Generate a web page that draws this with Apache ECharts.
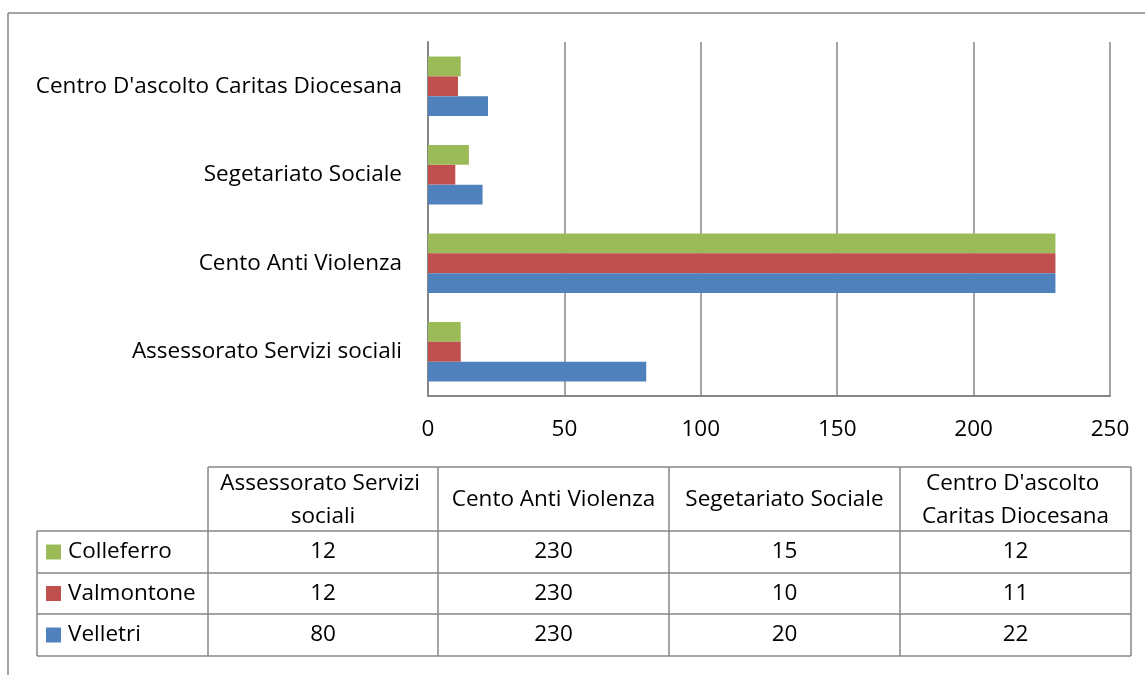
<!DOCTYPE html>
<html>
<head>
<meta charset="utf-8">
<script src="https://cdn.jsdelivr.net/npm/echarts@6/dist/echarts.min.js"></script>
<style>
html,body{margin:0;padding:0;background:#fff;}
#main{width:1145px;height:675px;}
</style>
</head>
<body>
<div id="main"></div>
<script>
var categories=['Assessorato Servizi sociali','Cento Anti Violenza','Segetariato Sociale',"Centro D'ascolto Caritas Diocesana"];
var seriesNames=['Colleferro','Valmontone','Velletri'];
var seriesColors=['#9bbb59','#c0504d','#4f81bd'];
var colleferro=[12,230,15,12];
var valmontone=[12,230,10,11];
var velletri=[80,230,20,22];
var xTicks=[0,50,100,150,200,250];

var seriesData=[colleferro,valmontone,velletri];
var FONT='"Open Sans", Lato, sans-serif';
var FS=22.5;
var LINE='#868686';

// data table below the chart
var colX=[37,208,438,669,900,1131];
var rowY=[467,531,573,614,656];

function table_graphics(){
	var els=[];
	function line(x1,y1,x2,y2){
		els.push({type:'line',shape:{x1:x1,y1:y1,x2:x2,y2:y2},style:{stroke:LINE,lineWidth:1.5},silent:true});
	}
	// frame of the whole picture
	line(8,13,1145,13);
	line(8,13,8,675);
	// horizontal rules
	line(colX[1],rowY[0],colX[5],rowY[0]);
	for(var r=1;r<rowY.length;r++) line(colX[0],rowY[r],colX[5],rowY[r]);
	// vertical rules
	line(colX[0],rowY[1],colX[0],rowY[4]);
	for(var c=1;c<colX.length;c++) line(colX[c],rowY[0],colX[c],rowY[4]);
	// header
	for(var i=0;i<categories.length;i++){
		els.push({type:'text',silent:true,x:(colX[i+1]+colX[i+2])/2,y:(rowY[0]+rowY[1])/2+1,
			style:{text:categories[i],width:colX[i+2]-colX[i+1]-4,overflow:'break',
				align:'center',verticalAlign:'middle',lineHeight:33,
				fontFamily:FONT,fontSize:FS,fill:'#000'}});
	}
	// rows
	for(var s=0;s<seriesNames.length;s++){
		var cy=(rowY[s+1]+rowY[s+2])/2;
		els.push({type:'rect',silent:true,shape:{x:46,y:cy-7.5,width:15,height:15},style:{fill:seriesColors[s]}});
		els.push({type:'text',silent:true,x:68,y:cy,
			style:{text:seriesNames[s],align:'left',verticalAlign:'middle',fontFamily:FONT,fontSize:FS,fill:'#000'}});
		for(var j=0;j<categories.length;j++){
			els.push({type:'text',silent:true,x:(colX[j+1]+colX[j+2])/2,y:cy,
				style:{text:String(seriesData[s][j]),align:'center',verticalAlign:'middle',fontFamily:FONT,fontSize:FS,fill:'#000'}});
		}
	}
	return els;
}

var myChart=echarts.init(document.getElementById('main'));
var option={
	animation:false,
	backgroundColor:'#fff',
	textStyle:{fontFamily:FONT},
	grid:{left:428,right:35,top:42,bottom:279,containLabel:false,outerBoundsMode:'none'},
	xAxis:{
		type:'value',
		min:xTicks[0],
		max:xTicks[xTicks.length-1],
		interval:xTicks[1]-xTicks[0],
		axisLine:{show:true,lineStyle:{color:LINE,width:2}},
		axisTick:{show:false},
		splitLine:{show:true,lineStyle:{color:LINE,width:1.5}},
		axisLabel:{fontSize:FS,color:'#000',margin:22,fontFamily:FONT}
	},
	yAxis:{
		type:'category',
		data:categories,
		axisLine:{show:true,lineStyle:{color:LINE,width:2}},
		axisTick:{show:false},
		splitLine:{show:false},
		axisLabel:{fontSize:FS,color:'#000',margin:26,fontFamily:FONT}
	},
	series:[],
	graphic:table_graphics()
};
for(var i=0;i<seriesNames.length;i++){
	option.series.push({
		name:seriesNames[i],
		type:'bar',
		data:seriesData[i],
		barGap:'0%',
		barCategoryGap:'33%',
		itemStyle:{color:seriesColors[i]}
	});
}
myChart.setOption(option);
</script>
</body>
</html>
